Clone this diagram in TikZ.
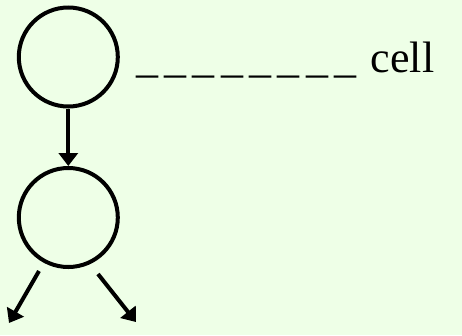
\documentclass[tikz,border=0pt]{standalone}
\usepackage{fontspec}
\setmainfont{Liberation Serif}
\usetikzlibrary{arrows.meta}
\definecolor{paper}{RGB}{238,255,231}
\newcommand\blankmark{\_\kern6.3pt}
\begin{document}
\begin{tikzpicture}[x=1pt,y=-1pt,
  cellnode/.style={circle,draw,line width=4pt,minimum size=99pt,inner sep=0pt},
  link/.style={line width=4pt,-{Triangle[length=13pt,width=19pt]}}]
  % canvas
  \fill[paper] (0,0) rectangle (462,335);
  \useasboundingbox (0,0) rectangle (462,335);
  % the two cells
  \node[cellnode] (upper) at (68.3,57) {};
  \node[cellnode] (lower) at (68.3,217.5) {};
  \draw[link] (upper) -- (lower);
  % outgoing links of the lower cell
  \coordinate (ls) at (39,271);
  \coordinate (le) at (9,323);
  \coordinate (rs) at (98,274);
  \coordinate (re) at (136,322);
  \draw[link] (ls) -- (le);
  \draw[link] (rs) -- (re);
  % label
  \node[anchor=base west,inner sep=0pt,font=\fontsize{44}{50}\selectfont] (label) at (136,72)
    {\blankmark\blankmark\blankmark\blankmark\blankmark\blankmark\blankmark\_\kern3.5pt\ cell};
\end{tikzpicture}
\end{document}
